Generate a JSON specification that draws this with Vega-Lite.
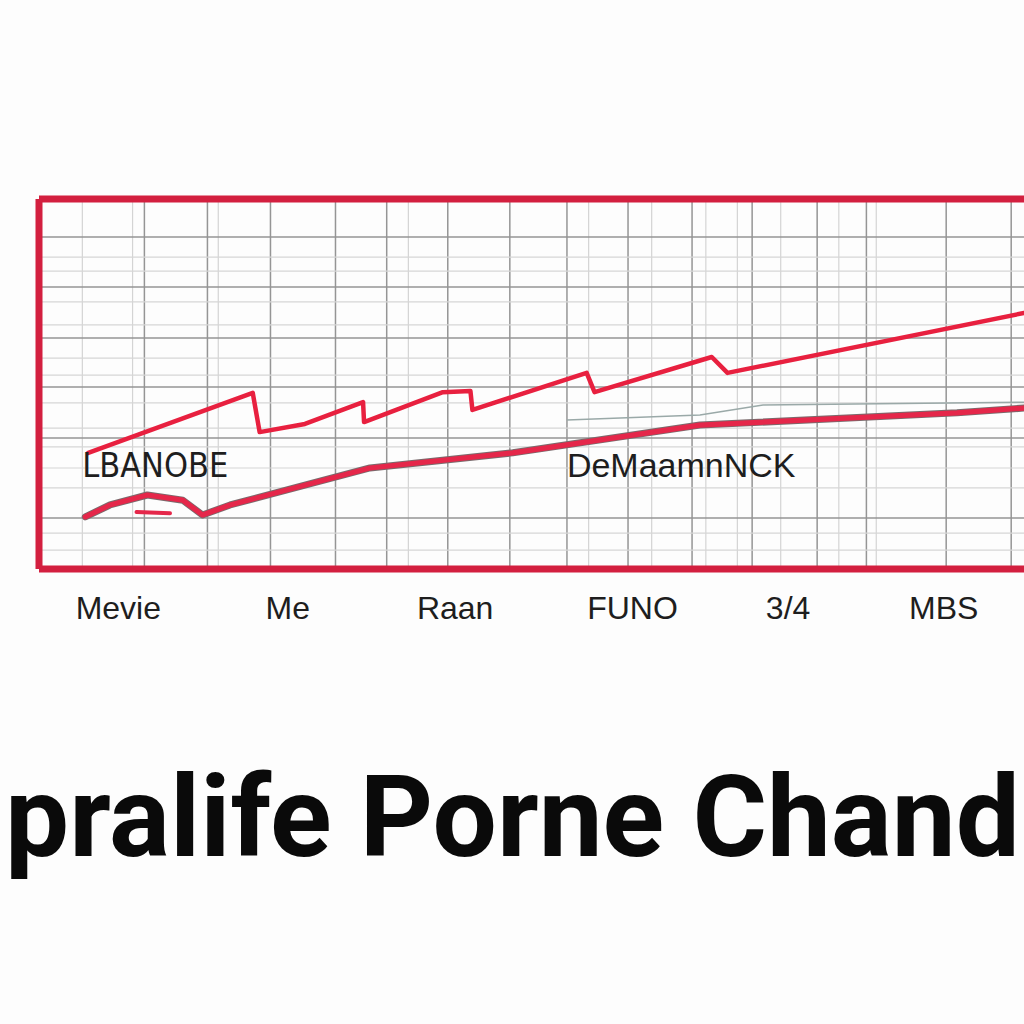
{
  "$schema": "https://vega.github.io/schema/vega-lite/v6.json",
  "width": 985,
  "height": 370,
  "autosize": {"type": "none"},
  "padding": {"left": 39, "top": 199, "right": 0, "bottom": 455},
  "background": "#fdfdfd",
  "config": {"view": {"stroke": null}},
  "title": {
    "text": "pralife Porne Chand",
    "orient": "bottom",
    "anchor": "middle",
    "offset": 142,
    "dx": -19,
    "font": "Roboto, 'Liberation Sans', sans-serif",
    "fontSize": 114,
    "fontWeight": "bold",
    "color": "#0a0a0a"
  },
  "datasets": {
    "vgrid": [
      {"x": 4.4, "kind": "minor"}, {"x": 9.5, "kind": "minor"}, {"x": 18.2, "kind": "minor"},
      {"x": 37.5, "kind": "minor"}, {"x": 55.8, "kind": "minor"}, {"x": 62.2, "kind": "minor"},
      {"x": 67.7, "kind": "minor"}, {"x": 70.9, "kind": "minor"}, {"x": 75.3, "kind": "minor"},
      {"x": 81.2, "kind": "minor"}, {"x": 85.0, "kind": "minor"},
      {"x": 10.7, "kind": "major"}, {"x": 17.1, "kind": "major"}, {"x": 23.5, "kind": "major"},
      {"x": 30.1, "kind": "major"}, {"x": 35.3, "kind": "major"}, {"x": 41.5, "kind": "major"},
      {"x": 47.8, "kind": "major"}, {"x": 53.6, "kind": "major"}, {"x": 59.8, "kind": "major"},
      {"x": 66.3, "kind": "major"}, {"x": 72.4, "kind": "major"}, {"x": 79.0, "kind": "major"},
      {"x": 84.0, "kind": "major"}, {"x": 92.1, "kind": "major"}, {"x": 98.7, "kind": "major"}
    ],
    "hgrid": [
      {"y": 84.3, "kind": "minor"}, {"y": 80.5, "kind": "minor"}, {"y": 72.2, "kind": "minor"},
      {"y": 66.0, "kind": "minor"}, {"y": 57.0, "kind": "minor"}, {"y": 52.4, "kind": "minor"},
      {"y": 44.9, "kind": "minor"}, {"y": 38.1, "kind": "minor"}, {"y": 33.0, "kind": "minor"},
      {"y": 27.3, "kind": "minor"}, {"y": 21.9, "kind": "minor"}, {"y": 9.7, "kind": "minor"},
      {"y": 5.1, "kind": "minor"},
      {"y": 89.7, "kind": "major"}, {"y": 76.2, "kind": "major"}, {"y": 62.4, "kind": "major"},
      {"y": 49.2, "kind": "major"}, {"y": 35.4, "kind": "major"}, {"y": 13.8, "kind": "major"}
    ],
    "hborder": [{"y": 0}, {"y": 100}],
    "vborder": [{"x": 0}],
    "upper": [
      {"x": 5.0, "y": 31.4}, {"x": 21.7, "y": 47.6}, {"x": 22.4, "y": 37.0},
      {"x": 27.0, "y": 39.2}, {"x": 32.9, "y": 45.1}, {"x": 33.0, "y": 39.7},
      {"x": 41.0, "y": 47.8}, {"x": 43.8, "y": 48.1}, {"x": 44.0, "y": 43.0},
      {"x": 55.6, "y": 53.0}, {"x": 56.4, "y": 47.8}, {"x": 68.3, "y": 57.3},
      {"x": 69.9, "y": 53.0}, {"x": 100, "y": 69.2}
    ],
    "lower": [
      {"x": 4.7, "y": 14.1}, {"x": 7.2, "y": 17.3}, {"x": 11.0, "y": 20.0},
      {"x": 14.6, "y": 18.6}, {"x": 16.6, "y": 14.6}, {"x": 19.4, "y": 17.3},
      {"x": 33.6, "y": 27.3}, {"x": 48.1, "y": 31.4}, {"x": 67.1, "y": 38.9},
      {"x": 93.2, "y": 42.2}, {"x": 100, "y": 43.5}
    ],
    "stub": [{"x": 9.9, "y": 15.4}, {"x": 13.3, "y": 15.1}],
    "faint": [{"x": 53.6, "y": 40.3}, {"x": 67.1, "y": 41.6}, {"x": 73.5, "y": 44.3}, {"x": 100, "y": 45.1}],
    "labels": [
      {"x": 11.8, "y": 27.6, "text": "LBANOBE", "kind": "narrow"},
      {"x": 65.2, "y": 27.6, "text": "DeMaamnNCK", "kind": "wide"}
    ]
  },
  "layer": [
    {
      "data": {"name": "vgrid"},
      "transform": [{"filter": "datum.kind == 'minor'"}],
      "mark": {"type": "rule", "color": "#d4d4d4", "strokeWidth": 1.2},
      "encoding": {
        "x": {"field": "x", "type": "quantitative", "scale": {"domain": [0, 100], "nice": false},
          "axis": {
            "values": [8.0, 25.2, 42.2, 60.2, 76.0, 91.8],
            "labelExpr": "datum.value == 8 ? 'Mevie' : datum.value == 25.2 ? 'Me' : datum.value == 42.2 ? 'Raan' : datum.value == 60.2 ? 'FUNO' : datum.value == 76 ? '3/4' : 'MBS'",
            "title": null, "grid": false, "domain": false, "ticks": false,
            "labelPadding": 24, "labelFontSize": 32, "labelFont": "'Liberation Sans', sans-serif",
            "labelColor": "#1e1e1e", "labelFlush": false, "labelOverlap": false
          }
        }
      }
    },
    {
      "data": {"name": "vgrid"},
      "transform": [{"filter": "datum.kind == 'major'"}],
      "mark": {"type": "rule", "color": "#959595", "strokeWidth": 1.5},
      "encoding": {"x": {"field": "x", "type": "quantitative"}}
    },
    {
      "data": {"name": "hgrid"},
      "transform": [{"filter": "datum.kind == 'minor'"}],
      "mark": {"type": "rule", "color": "#d6d6d6", "strokeWidth": 1.2},
      "encoding": {"y": {"field": "y", "type": "quantitative", "scale": {"domain": [0, 100], "nice": false}, "axis": null}}
    },
    {
      "data": {"name": "hgrid"},
      "transform": [{"filter": "datum.kind == 'major'"}],
      "mark": {"type": "rule", "color": "#959595", "strokeWidth": 1.5},
      "encoding": {"y": {"field": "y", "type": "quantitative"}}
    },
    {
      "data": {"name": "faint"},
      "mark": {"type": "line", "color": "#9aa9a8", "strokeWidth": 1.5},
      "encoding": {"x": {"field": "x", "type": "quantitative"}, "y": {"field": "y", "type": "quantitative"}}
    },
    {
      "data": {"name": "lower"},
      "mark": {"type": "line", "color": "#7a6a6c", "strokeWidth": 7, "strokeJoin": "round", "strokeCap": "round"},
      "encoding": {"x": {"field": "x", "type": "quantitative"}, "y": {"field": "y", "type": "quantitative"}}
    },
    {
      "data": {"name": "lower"},
      "mark": {"type": "line", "color": "#e5274a", "strokeWidth": 5.2, "strokeJoin": "round", "strokeCap": "round"},
      "encoding": {"x": {"field": "x", "type": "quantitative"}, "y": {"field": "y", "type": "quantitative"}}
    },
    {
      "data": {"name": "stub"},
      "mark": {"type": "line", "color": "#e5274a", "strokeWidth": 4, "strokeCap": "round"},
      "encoding": {"x": {"field": "x", "type": "quantitative"}, "y": {"field": "y", "type": "quantitative"}}
    },
    {
      "data": {"name": "upper"},
      "mark": {"type": "line", "color": "#e8203f", "strokeWidth": 4.5, "strokeJoin": "round", "strokeCap": "round"},
      "encoding": {"x": {"field": "x", "type": "quantitative"}, "y": {"field": "y", "type": "quantitative"}}
    },
    {
      "data": {"name": "hborder"},
      "mark": {"type": "rule", "color": "#d31f3f", "strokeWidth": 7},
      "encoding": {"y": {"field": "y", "type": "quantitative"}}
    },
    {
      "data": {"name": "vborder"},
      "mark": {"type": "rule", "color": "#d31f3f", "strokeWidth": 7},
      "encoding": {"x": {"field": "x", "type": "quantitative"}}
    },
    {
      "data": {"name": "labels"},
      "transform": [{"filter": "datum.kind == 'narrow'"}],
      "mark": {"type": "text", "fontSize": 34, "font": "'DejaVu Sans Condensed', sans-serif", "color": "#1e1e1e", "align": "center", "baseline": "middle"},
      "encoding": {"x": {"field": "x", "type": "quantitative"}, "y": {"field": "y", "type": "quantitative"}, "text": {"field": "text"}}
    },
    {
      "data": {"name": "labels"},
      "transform": [{"filter": "datum.kind == 'wide'"}],
      "mark": {"type": "text", "fontSize": 34, "font": "'Liberation Sans', sans-serif", "color": "#1e1e1e", "align": "center", "baseline": "middle"},
      "encoding": {"x": {"field": "x", "type": "quantitative"}, "y": {"field": "y", "type": "quantitative"}, "text": {"field": "text"}}
    }
  ]
}
